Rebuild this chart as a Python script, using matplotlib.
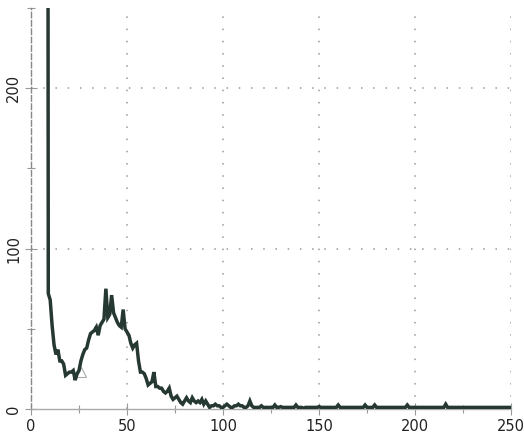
import matplotlib
matplotlib.use("Agg")
import matplotlib.pyplot as plt
import numpy as np

# Histogram-like series (x = level, y = count)
x_start = 8
counts_head = [1500, 72, 68, 52, 40, 34, 37, 30, 30, 28, 21,   # 8-18
               22, 23, 23, 24, 18, 22, 24, 30, 34, 37,     # 19-28
               38, 43, 47, 48, 49, 51, 46, 52, 54, 56,     # 29-38
               75, 57, 59, 71, 60, 57, 54, 52, 51, 62,     # 39-48
               50, 48, 46, 41, 38, 40, 41, 30, 23, 23,     # 49-58
               22, 19, 15, 16, 17, 23, 14, 14, 13, 13,     # 59-68
               11, 10, 11, 13, 8, 6, 7, 8, 6, 4,           # 69-78
               3, 5, 7, 5, 4, 7, 5, 4, 5, 4,               # 79-88
               6, 3, 5, 3, 1, 2, 2, 3, 2, 2,               # 89-98
               1, 1, 2, 3, 2, 1, 1, 2, 2, 3,               # 99-108
               2, 2, 1, 1, 2, 5, 2, 1, 1, 1,               # 109-118
               1, 2, 1, 1, 1, 1, 1, 1, 2.5, 1,             # 119-128
               1, 1.5, 1, 1, 1, 1, 1, 1, 1, 2.5,           # 129-138
               1, 1, 1, 0.5, 1, 1, 1, 1, 1, 1,             # 139-148
               1, 1.5, 1, 1, 1, 1, 1, 1, 1, 1,             # 149-158
               1, 2.5, 1, 1, 1, 1, 1, 1, 1, 1,             # 159-168
               1, 1, 1, 1, 1, 2.5, 1, 1, 1, 1,             # 169-178
               2.5, 1, 1, 1, 1, 1, 1, 1, 1, 1,             # 179-188
               1, 1, 1, 1, 1, 1, 1, 2.5, 1, 1,             # 189-198
               1, 1, 1, 1, 1, 1, 1, 1, 1, 1,               # 199-208
               1, 1, 1, 1, 1, 1, 1, 3, 1, 1,               # 209-218
               1, 1, 1, 1, 1, 1, 1, 1, 1, 1,               # 219-228
               1, 1, 1, 1, 1, 1, 1, 1, 1, 1,               # 229-238
               1, 1, 1, 1, 1, 1, 1, 1, 1, 1,               # 239-248
               1, 1]                                       # 249-250
levels = list(range(x_start, x_start + len(counts_head)))

marker_x = [26]
marker_y = [23]

x_ticks = [0, 50, 100, 150, 200, 250]
y_ticks = [0, 100, 200]

fig = plt.figure(figsize=(5.24, 4.42), dpi=100)
ax = fig.add_axes([31/524, 33/442, 480/524, 401/442])

ax.plot(levels, counts_head, color="#263832", lw=2.5, solid_joinstyle="miter", zorder=3)
ax.plot(marker_x, marker_y, marker="^", ms=7, mfc="none", mec="#aaaaaa", mew=0.8, ls="none", zorder=2)

ax.set_xlim(0, 250)
ax.set_ylim(0, 250)

ax.set_xticks(x_ticks)
ax.set_xticks([25, 75, 125, 175, 225], minor=True)
ax.set_yticks(y_ticks)
ax.set_yticks([50, 150, 250], minor=True)

ax.tick_params(axis="x", which="major", direction="inout", length=8, width=0.8, color="#999999",
               labelsize=10.5, pad=3, labelcolor="#222222")
ax.tick_params(axis="x", which="minor", direction="inout", length=6, width=0.8, color="#999999")
ax.tick_params(axis="y", which="major", direction="inout", length=8, width=0.8, color="#999999",
               labelsize=10.5, pad=3, labelcolor="#222222")
ax.tick_params(axis="y", which="minor", direction="inout", length=6, width=0.8, color="#999999")
for lab in ax.get_yticklabels():
    lab.set_rotation(90)
    lab.set_va("center")

for s in ["top", "right"]:
    ax.spines[s].set_visible(False)
ax.spines["left"].set_color("#888888")
ax.spines["left"].set_linestyle((0, (4, 2)))
ax.spines["left"].set_linewidth(1.0)
ax.spines["bottom"].set_color("#aaaaaa")
ax.spines["bottom"].set_linewidth(1.0)

for xv in [50, 100, 150, 200, 250]:
    ax.axvline(xv, color="#999999", lw=1.1, ls=(0, (1, 7)), zorder=1)
for yv in [100, 200]:
    ax.axhline(yv, color="#999999", lw=1.1, ls=(0, (1, 7)), zorder=1)

fig.savefig("out.png", dpi=100)
